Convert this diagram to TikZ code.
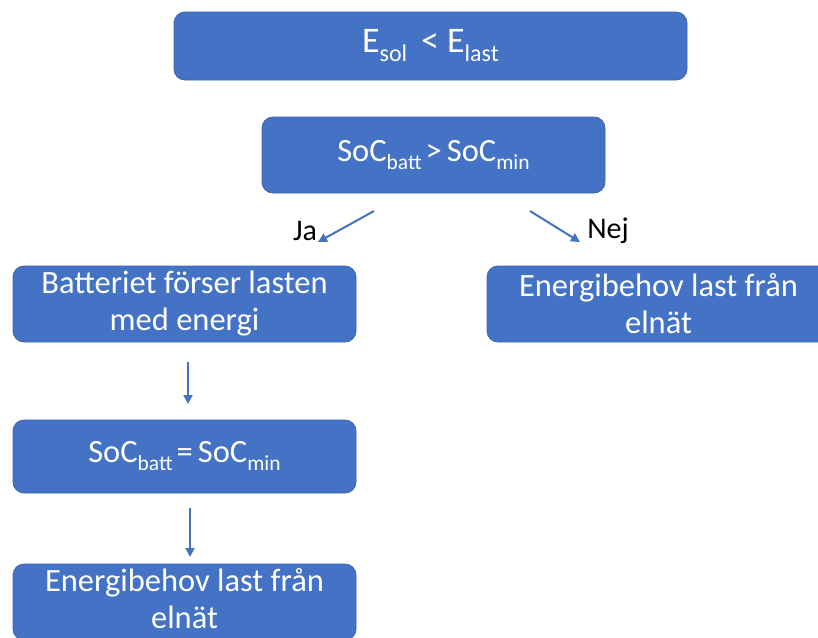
\documentclass[tikz,border=0pt]{standalone}
\usepackage{fontspec}
\setmainfont{Carlito}
\usetikzlibrary{arrows.meta}
\definecolor{boxblue}{HTML}{4472C4}
\definecolor{boxedge}{HTML}{3A64B0}
\newcommand\sbs[1]{\raisebox{-8pt}{\fontsize{21.5}{21.5}\selectfont #1}}
\newcommand\sbsbig[1]{\raisebox{-9pt}{\fontsize{24}{24}\selectfont #1}}
\tikzset{
  fbox/.style={rectangle, rounded corners=11pt, fill=boxblue, draw=boxedge, line width=0.8pt,
    text=white, inner sep=0pt, outer sep=0pt, align=center,
    font=\fontsize{32.5}{37}\selectfont},
  ftext/.style={text=white, inner sep=0pt, outer sep=0pt, align=center,
    font=\fontsize{32.5}{37}\selectfont},
  flow/.style={draw=boxblue, line width=2pt, -{Triangle[length=9pt,width=9pt]}},
  lbl/.style={text=black, inner sep=0pt, font=\fontsize{30}{36}\selectfont}
}
\begin{document}
\begin{tikzpicture}[x=1pt,y=-1pt]
\useasboundingbox (0,0) rectangle (818,637);
\clip (0,0) rectangle (818,637);
\fill[white] (0,0) rectangle (818,637);
\node[fbox, minimum width=513pt, minimum height=68pt, font=\fontsize{36}{40}\selectfont] (top) at (430.5,46) {E\sbsbig{sol}\hspace{14pt}<\hspace{8pt}E\sbsbig{last}};
\node[fbox, minimum width=343pt, minimum height=76pt] (cond) at (433.5,155) {SoC\sbs{batt}\hspace{4pt}>\hspace{5pt}SoC\sbs{min}};
\node[fbox, minimum width=343pt, minimum height=76pt] (batt) at (184.5,304) {Batteriet förser lasten\\med energi};
\node[fbox, minimum width=343pt, minimum height=76pt] (grid1) at (658.5,304) {Energibehov last från\\elnät};
\node[fbox, minimum width=343pt, minimum height=73pt] (eq) at (184.5,456.5) {SoC\sbs{batt}\hspace{4pt}=\hspace{5pt}SoC\sbs{min}};
\node[fbox, minimum width=343pt, minimum height=76pt] (grid2box) at (184.5,602) {};
\node[ftext] (grid2) at (184.5,599) {Energibehov last från\\elnät};
\node[lbl] (ja) at (305,231) {Ja};
\node[lbl] (nej) at (608,231) {Nej};
\coordinate (jaS) at (374,211);
\coordinate (jaE) at (318,242);
\coordinate (nejS) at (530,211);
\coordinate (nejE) at (580,242);
\coordinate (a1S) at (188,362);
\coordinate (a1E) at (188,404);
\coordinate (a2S) at (190,508);
\coordinate (a2E) at (190,557);
\draw[flow] (jaS) -- (jaE);
\draw[flow] (nejS) -- (nejE);
\draw[flow] (a1S) -- (a1E);
\draw[flow] (a2S) -- (a2E);
\end{tikzpicture}
\end{document}
